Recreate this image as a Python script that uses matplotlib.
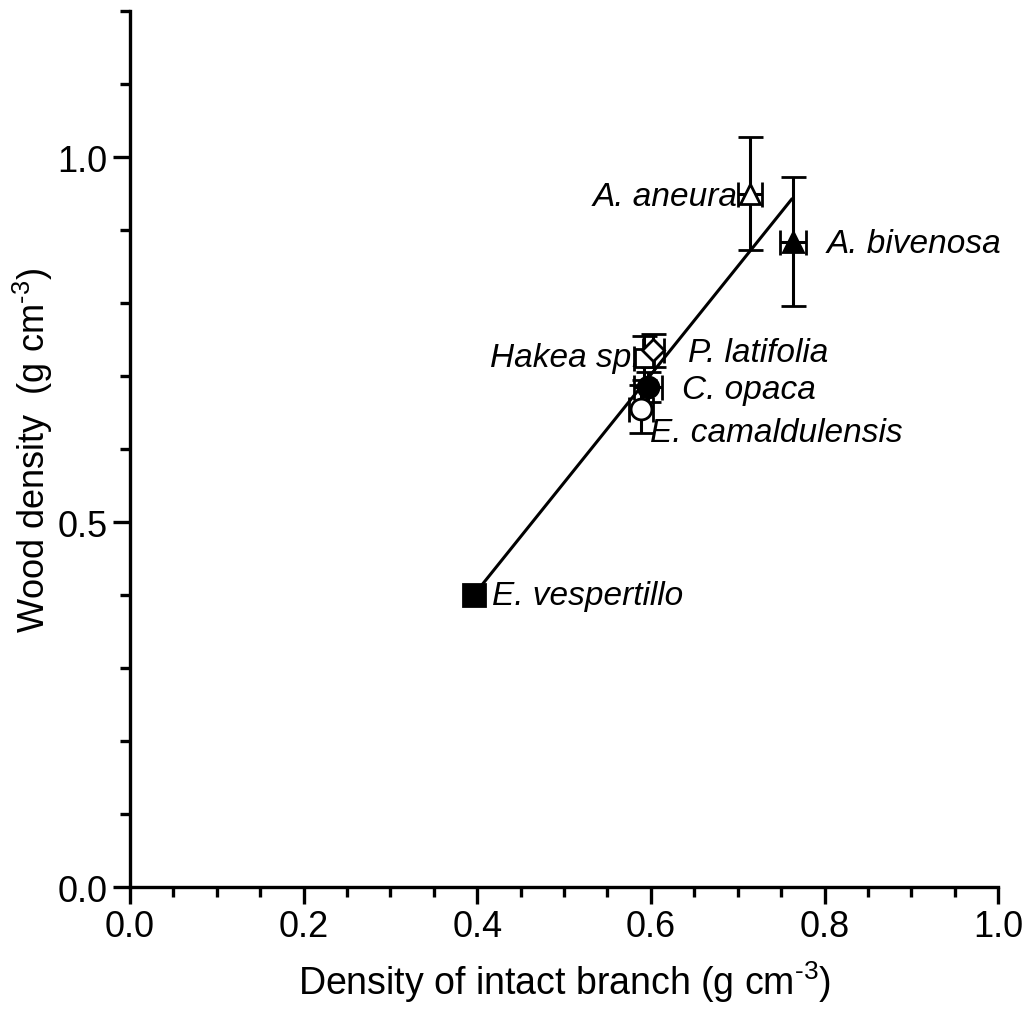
import matplotlib.pyplot as plt
from matplotlib.ticker import MultipleLocator
import numpy as np

plt.rcParams['font.family'] = ['Liberation Sans', 'DejaVu Sans']
plt.rcParams['mathtext.fontset'] = 'custom'
plt.rcParams['mathtext.rm'] = 'Liberation Sans'

# species data
species = ['E. vespertillo', 'E. camaldulensis', 'C. opaca', 'Hakea sp.',
           'P. latifolia', 'A. aneura', 'A. bivenosa']
branch = [0.396, 0.589, 0.597, 0.592, 0.603, 0.714, 0.764]
branch_err = [0.0, 0.014, 0.016, 0.012, 0.012, 0.014, 0.015]
wood = [0.400, 0.655, 0.685, 0.725, 0.735, 0.950, 0.884]
wood_err = [0.0, 0.033, 0.020, 0.030, 0.022, 0.077, 0.088]
markers = ['s', 'o', 'o', 's', 'D', '^', '^']
filled = [True, False, True, False, False, False, True]
msizes = [16, 15, 15, 13, 11, 14, 14]

# label placement (x, y, ha)
label_pos = [(0.417, 0.399, 'left'), (0.599, 0.622, 'left'), (0.636, 0.681, 'left'),
             (0.588, 0.726, 'right'), (0.643, 0.732, 'left'), (0.700, 0.946, 'right'),
             (0.802, 0.882, 'left')]

# regression line end points
fit_x = [0.396, 0.762]
fit_y = [0.400, 0.942]

fig = plt.figure(figsize=(10.27, 10.12), dpi=100)
ax = fig.add_axes([0.1266, 0.1225, 0.8453, 0.8656])

ax.plot(fit_x, fit_y, color='black', lw=2.2, zorder=2)

for i in range(len(species)):
    ax.errorbar(branch[i], wood[i], xerr=branch_err[i] or None, yerr=wood_err[i] or None,
                fmt=markers[i], ms=msizes[i], mec='black', mew=2,
                mfc='black' if filled[i] else 'white', ecolor='black',
                elinewidth=2.2, capsize=9, capthick=2.2, zorder=3)
    lx, ly, ha = label_pos[i]
    ax.text(lx, ly, species[i], ha=ha, va='center', fontsize=24, style='italic')

ax.set_xlim(0, 1.0)
ax.set_ylim(0, 1.2)
ax.xaxis.set_major_locator(MultipleLocator(0.2))
ax.xaxis.set_minor_locator(MultipleLocator(0.05))
ax.yaxis.set_minor_locator(MultipleLocator(0.1))
ax.set_yticks([0.0, 0.5, 1.0])

for s in ['top', 'right']:
    ax.spines[s].set_visible(False)
for s in ['left', 'bottom']:
    ax.spines[s].set_linewidth(2.4)

ax.tick_params(which='major', length=12, width=2.4, labelsize=26, direction='out', pad=4)
ax.tick_params(which='minor', length=7, width=2.4, direction='out')

ax.set_xlabel(r'Density of intact branch (g cm$^{\text{-}3}$)', fontsize=27, labelpad=10)
ax.set_ylabel(r'Wood density  (g cm$^{\text{-}3}$)', fontsize=26, labelpad=2)

fig.savefig('out.png', dpi=100)
